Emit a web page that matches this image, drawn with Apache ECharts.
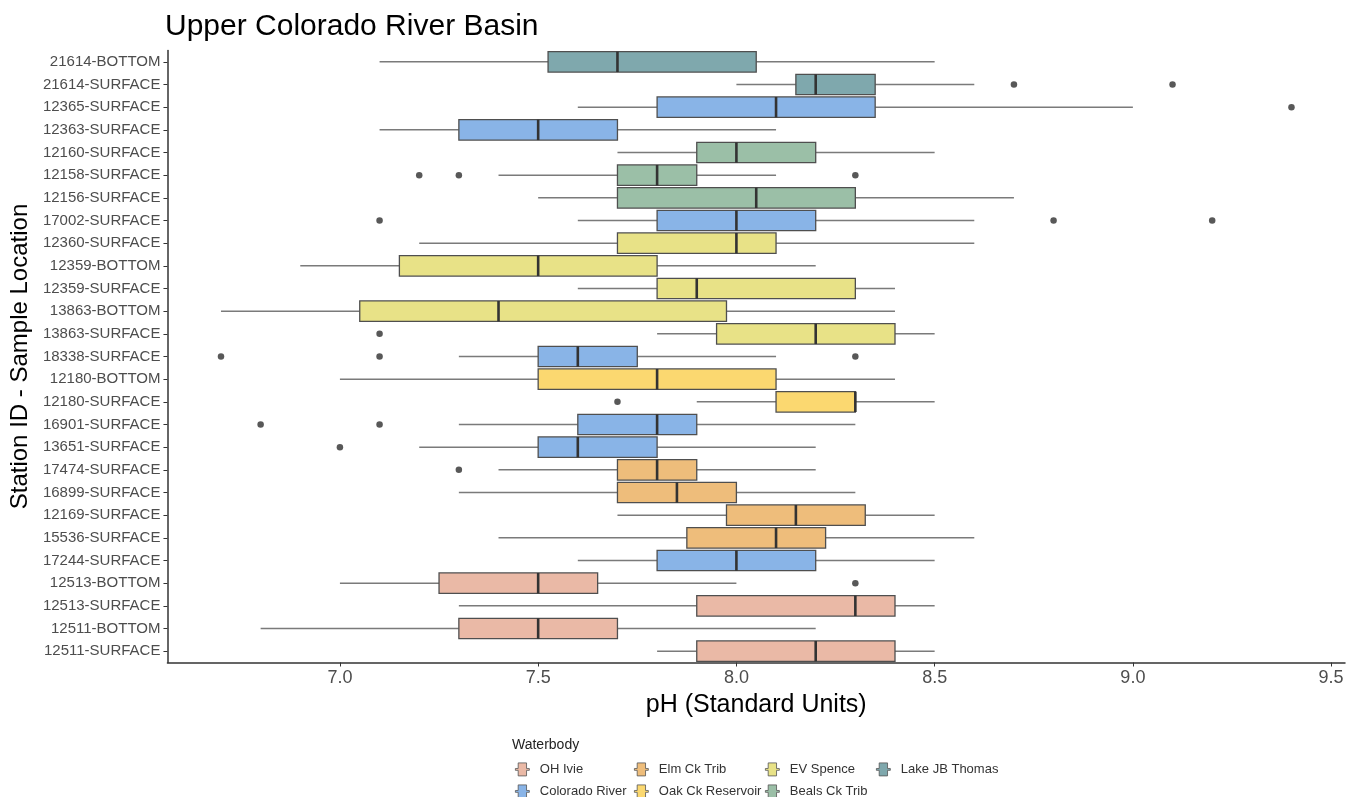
<!DOCTYPE html>
<html>
<head>
<meta charset="utf-8">
<script src="https://cdn.jsdelivr.net/npm/echarts@6/dist/echarts.min.js"></script>
<style>html,body{margin:0;padding:0;background:#fff}#c{width:1350px;height:797px}</style>
</head>
<body>
<div id="c"></div>
<script>
// Stations listed top to bottom
const stations = ['21614-BOTTOM','21614-SURFACE','12365-SURFACE','12363-SURFACE','12160-SURFACE','12158-SURFACE','12156-SURFACE','17002-SURFACE','12360-SURFACE','12359-BOTTOM','12359-SURFACE','13863-BOTTOM','13863-SURFACE','18338-SURFACE','12180-BOTTOM','12180-SURFACE','16901-SURFACE','13651-SURFACE','17474-SURFACE','16899-SURFACE','12169-SURFACE','15536-SURFACE','17244-SURFACE','12513-BOTTOM','12513-SURFACE','12511-BOTTOM','12511-SURFACE'];
const waterbody = ['Lake JB Thomas','Lake JB Thomas','Colorado River','Colorado River','Beals Ck Trib','Beals Ck Trib','Beals Ck Trib','Colorado River','EV Spence','EV Spence','EV Spence','EV Spence','EV Spence','Colorado River','Oak Ck Reservoir','Oak Ck Reservoir','Colorado River','Colorado River','Elm Ck Trib','Elm Ck Trib','Elm Ck Trib','Elm Ck Trib','Colorado River','OH Ivie','OH Ivie','OH Ivie','OH Ivie'];
const whiskerLow = [7.1,8.0,7.6,7.1,7.7,7.4,7.5,7.6,7.2,6.9,7.6,6.7,7.8,7.3,7.0,7.9,7.3,7.2,7.4,7.3,7.7,7.4,7.6,7.0,7.3,6.8,7.8];
const q1 =         [7.525,8.15,7.8,7.3,7.9,7.7,7.7,7.8,7.7,7.15,7.8,7.05,7.95,7.5,7.5,8.1,7.6,7.5,7.7,7.7,7.975,7.875,7.8,7.25,7.9,7.3,7.9];
const median =     [7.7,8.2,8.1,7.5,8.0,7.8,8.05,8.0,8.0,7.5,7.9,7.4,8.2,7.6,7.8,8.3,7.8,7.6,7.8,7.85,8.15,8.1,8.0,7.5,8.3,7.5,8.2];
const q3 =         [8.05,8.35,8.35,7.7,8.2,7.9,8.3,8.2,8.1,7.8,8.3,7.975,8.4,7.75,8.1,8.3,7.9,7.8,7.9,8.0,8.325,8.225,8.2,7.65,8.4,7.7,8.4];
const whiskerHigh =[8.5,8.6,9.0,8.1,8.5,8.1,8.7,8.6,8.6,8.2,8.4,8.4,8.5,8.1,8.4,8.5,8.3,8.2,8.2,8.3,8.5,8.6,8.5,8.0,8.5,8.2,8.5];
const outlierStation = ['21614-SURFACE','21614-SURFACE','12365-SURFACE','12158-SURFACE','12158-SURFACE','12158-SURFACE','17002-SURFACE','17002-SURFACE','17002-SURFACE','13863-SURFACE','18338-SURFACE','18338-SURFACE','18338-SURFACE','12180-SURFACE','16901-SURFACE','16901-SURFACE','13651-SURFACE','17474-SURFACE','12513-BOTTOM'];
const outlierValue =   [8.7,9.1,9.4,7.2,7.3,8.3,7.1,8.8,9.2,7.1,6.7,7.1,8.3,7.7,6.8,7.1,7.0,7.3,8.3];
const groups = ['OH Ivie','Colorado River','Elm Ck Trib','Oak Ck Reservoir','EV Spence','Beals Ck Trib','Lake JB Thomas'];
const groupColors = ['#EAB9A6','#89B4E7','#EEBD7B','#FBD870','#E8E287','#9BBFA7','#7FA8AD'];
const xTicks = [7.0,7.5,8.0,8.5,9.0,9.5];

const FONT = '"Liberation Sans", Arial, sans-serif';

function renderBox(params, api) {
  const yi = api.value(0);
  const lo = api.coord([api.value(1), yi]);
  const a = api.coord([api.value(2), yi]);
  const m = api.coord([api.value(3), yi]);
  const b = api.coord([api.value(4), yi]);
  const hi = api.coord([api.value(5), yi]);
  const band = api.size([0, 1])[1];
  const h = band * 0.9;
  const cy = lo[1];
  return {
    type: 'group',
    children: [
      {type:'line', shape:{x1:lo[0], y1:cy, x2:a[0], y2:cy}, style:{stroke:'#7a7a7a', lineWidth:1.5}},
      {type:'line', shape:{x1:b[0], y1:cy, x2:hi[0], y2:cy}, style:{stroke:'#7a7a7a', lineWidth:1.5}},
      {type:'rect', shape:{x:a[0], y:cy - h/2, width:b[0]-a[0], height:h}, style:{fill:api.visual('color'), stroke:'#4f4f4f', lineWidth:1.3}},
      {type:'line', shape:{x1:m[0], y1:cy - h/2, x2:m[0], y2:cy + h/2}, style:{stroke:'#333333', lineWidth:2.6}}
    ]
  };
}

const series = groups.map((g, gi) => ({
  type: 'custom',
  name: g,
  color: groupColors[gi],
  renderItem: renderBox,
  encode: {y: 0, x: [1,2,3,4,5]},
  data: stations.map((s, i) => waterbody[i] === g ? [i, whiskerLow[i], q1[i], median[i], q3[i], whiskerHigh[i]] : null).filter(d => d),
  z: 2
}));
series.push({
  type: 'scatter',
  name: 'outliers',
  symbolSize: 6.5,
  itemStyle: {color: '#2e2e2e'},
  data: outlierValue.map((v, i) => [v, stations.indexOf(outlierStation[i])]),
  z: 3
});

const boxIcon = 'path://M0,6H3V0H12V6H15V8H12V14H3V8H0Z';
function legendItem(name, left, top) {
  return {
    data: [name], left: left, top: top, orient: 'horizontal', padding: 0,
    itemWidth: 15, itemHeight: 13, icon: boxIcon,
    itemStyle: {borderColor: '#555', borderWidth: 0.8},
    textStyle: {fontFamily: FONT, fontSize: 13, color: '#333', padding: [0,0,0,5]},
    selectedMode: false
  };
}

const chart = echarts.init(document.getElementById('c'), null, {renderer: 'canvas'});
chart.setOption({
  animation: false,
  backgroundColor: '#ffffff',
  textStyle: {fontFamily: FONT},
  title: [
    {text: 'Upper Colorado River Basin', left: 160, top: 7, textStyle: {fontFamily: FONT, fontSize: 30, fontWeight: 'normal', color: '#000'}},
    {text: 'Waterbody', left: 507, top: 733, textStyle: {fontFamily: FONT, fontSize: 14, fontWeight: 'normal', color: '#222'}}
  ],
  legend: [
    legendItem('OH Ivie', 515, 762.5),
    legendItem('Colorado River', 515, 784.5),
    legendItem('Elm Ck Trib', 634, 762.5),
    legendItem('Oak Ck Reservoir', 634, 784.5),
    legendItem('EV Spence', 765, 762.5),
    legendItem('Beals Ck Trib', 765, 784.5),
    legendItem('Lake JB Thomas', 876, 762.5)
  ],
  grid: {left: 165, right: 5, top: 50.5, height: 612, containLabel: false},
  xAxis: {
    type: 'value', min: 6.565, max: 9.535,
    name: 'pH (Standard Units)', nameLocation: 'middle', nameGap: 30,
    nameTextStyle: {fontFamily: FONT, fontSize: 25, color: '#000'},
    splitLine: {show: false},
    axisLine: {show: true, lineStyle: {color: '#333', width: 1.5}},
    axisTick: {show: true, length: 4, lineStyle: {color: '#333'}, customValues: xTicks},
    axisLabel: {customValues: xTicks, formatter: v => v.toFixed(1), fontFamily: FONT, fontSize: 18, color: '#4d4d4d', margin: 7}
  },
  yAxis: {
    type: 'category', data: stations, inverse: true,
    name: 'Station ID - Sample Location', nameLocation: 'middle', nameGap: 130, nameRotate: 90,
    nameTextStyle: {fontFamily: FONT, fontSize: 24, color: '#000'},
    axisLine: {show: true, lineStyle: {color: '#333', width: 1.5}},
    axisTick: {show: true, alignWithLabel: true, length: 4, lineStyle: {color: '#333'}},
    axisLabel: {fontFamily: FONT, fontSize: 15, color: '#4d4d4d', margin: 7, interval: 0},
    splitLine: {show: false}
  },
  series: series
});
</script>
</body>
</html>
